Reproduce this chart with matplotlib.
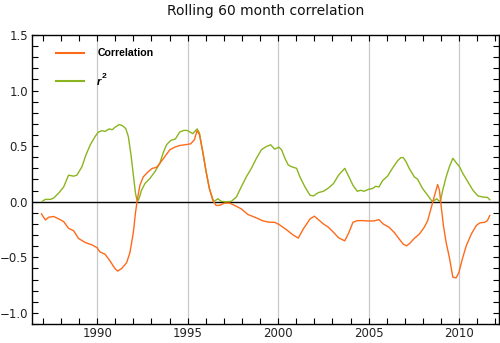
import numpy as np
import matplotlib
matplotlib.use('Agg')
import matplotlib.pyplot as plt

# Correlación (naranja)
corr_years = [1986.92, 1987.14, 1987.33, 1987.60, 1987.88, 1988.15, 1988.42, 1988.70, 1988.97,
              1989.34, 1989.71, 1989.98, 1990.16, 1990.44, 1990.71, 1990.99, 1991.14, 1991.36,
              1991.63, 1991.81, 1992.00, 1992.12, 1992.23, 1992.36, 1992.55, 1992.82, 1993.04,
              1993.28, 1993.46, 1993.74, 1994.01, 1994.29, 1994.56, 1994.84, 1995.17, 1995.37,
              1995.52, 1995.65, 1995.83, 1996.02, 1996.20, 1996.39, 1996.57, 1996.76, 1997.04,
              1997.31, 1997.59, 1997.96, 1998.33, 1998.70, 1999.17, 1999.54, 1999.81, 2000.09,
              2000.46, 2000.83, 2001.11, 2001.39, 2001.76, 2002.00, 2002.22, 2002.50, 2002.78,
              2003.06, 2003.34, 2003.68, 2003.91, 2004.13, 2004.37, 2004.65, 2005.00, 2005.30,
              2005.57, 2005.80, 2006.13, 2006.41, 2006.69, 2006.91, 2007.09, 2007.28, 2007.52,
              2007.80, 2008.07, 2008.26, 2008.44, 2008.59, 2008.72, 2008.81, 2008.91, 2009.00,
              2009.13, 2009.28, 2009.46, 2009.65, 2009.83, 2009.98, 2010.17, 2010.39, 2010.67,
              2010.94, 2011.13, 2011.41, 2011.56, 2011.69]
corr_vals = [-0.109, -0.164, -0.139, -0.133, -0.155, -0.179, -0.239, -0.261, -0.330,
             -0.367, -0.388, -0.412, -0.452, -0.473, -0.533, -0.603, -0.624, -0.600,
             -0.548, -0.458, -0.276, -0.094, 0.027, 0.148, 0.224, 0.270, 0.300,
             0.309, 0.345, 0.406, 0.467, 0.491, 0.506, 0.512, 0.521, 0.558,
             0.639, 0.603, 0.452, 0.270, 0.118, 0.012, -0.033, -0.033, -0.012,
             -0.012, -0.033, -0.064, -0.115, -0.139, -0.173, -0.185, -0.185, -0.209,
             -0.252, -0.300, -0.327, -0.245, -0.155, -0.130, -0.161, -0.200, -0.230,
             -0.276, -0.325, -0.352, -0.276, -0.185, -0.170, -0.170, -0.173, -0.173,
             -0.161, -0.200, -0.230, -0.276, -0.336, -0.382, -0.397, -0.373, -0.330,
             -0.291, -0.230, -0.170, -0.064, 0.027, 0.103, 0.155, 0.103, -0.033,
             -0.215, -0.367, -0.503, -0.679, -0.685, -0.639, -0.518, -0.397, -0.291,
             -0.215, -0.191, -0.185, -0.170, -0.124]

# r^2 (verde)
r2_years = [1986.96, 1987.14, 1987.42, 1987.60, 1987.88, 1988.15, 1988.42, 1988.70, 1988.88,
            1989.16, 1989.38, 1989.62, 1989.89, 1990.07, 1990.26, 1990.44, 1990.66, 1990.84,
            1990.99, 1991.21, 1991.39, 1991.58, 1991.72, 1991.87, 1992.00, 1992.12, 1992.22,
            1992.31, 1992.45, 1992.64, 1992.91, 1993.19, 1993.46, 1993.64, 1993.83, 1994.07,
            1994.32, 1994.56, 1994.80, 1995.00, 1995.28, 1995.52, 1995.65, 1995.83, 1996.02,
            1996.20, 1996.44, 1996.67, 1996.85, 1997.13, 1997.41, 1997.69, 1997.96, 1998.24,
            1998.52, 1998.80, 1999.07, 1999.35, 1999.59, 1999.81, 2000.04, 2000.19, 2000.37,
            2000.56, 2000.74, 2001.02, 2001.20, 2001.48, 2001.76, 2001.94, 2002.22, 2002.50,
            2002.78, 2003.06, 2003.34, 2003.68, 2003.91, 2004.13, 2004.37, 2004.56, 2004.74,
            2005.00, 2005.20, 2005.39, 2005.57, 2005.76, 2006.04, 2006.31, 2006.59, 2006.78,
            2006.91, 2007.06, 2007.24, 2007.52, 2007.70, 2007.98, 2008.26, 2008.50, 2008.63,
            2008.76, 2008.85, 2008.96, 2009.09, 2009.28, 2009.46, 2009.65, 2009.83, 2010.02,
            2010.20, 2010.48, 2010.76, 2011.04, 2011.31, 2011.56, 2011.69]
r2_vals = [0.003, 0.021, 0.021, 0.033, 0.079, 0.133, 0.239, 0.230, 0.239,
           0.315, 0.421, 0.512, 0.588, 0.627, 0.639, 0.633, 0.655, 0.648,
           0.670, 0.694, 0.685, 0.658, 0.588, 0.421, 0.239, 0.073, 0.003,
           0.027, 0.103, 0.164, 0.209, 0.270, 0.345, 0.436, 0.512, 0.552,
           0.564, 0.627, 0.642, 0.640, 0.612, 0.655, 0.618, 0.452, 0.270,
           0.118, 0.000, 0.027, 0.003, 0.000, 0.003, 0.042, 0.133, 0.224,
           0.300, 0.391, 0.467, 0.497, 0.512, 0.473, 0.491, 0.467, 0.391,
           0.330, 0.315, 0.300, 0.224, 0.133, 0.058, 0.052, 0.082, 0.094,
           0.124, 0.164, 0.240, 0.300, 0.224, 0.148, 0.094, 0.103, 0.094,
           0.112, 0.118, 0.139, 0.133, 0.188, 0.230, 0.300, 0.367, 0.397,
           0.397, 0.361, 0.300, 0.224, 0.203, 0.118, 0.058, 0.003, 0.012,
           0.027, 0.012, 0.003, 0.103, 0.224, 0.315, 0.391, 0.352, 0.315,
           0.255, 0.179, 0.103, 0.052, 0.042, 0.039, 0.018]

major_years = [1990, 1995, 2000, 2005, 2010]
y_ticks = [-1.0, -0.5, 0.0, 0.5, 1.0, 1.5]

color_corr = '#ff6a1a'
color_r2 = '#8ab51e'

fig = plt.figure(figsize=(5, 3.43), dpi=100)
ax = fig.add_axes([0.064, 0.0554, 0.934, 0.8426])

for yr in major_years:
    ax.axvline(yr, color='#c8c8c8', lw=0.9, zorder=0)
ax.axhline(0, color='black', lw=1.0, zorder=1)

ax.plot(corr_years, corr_vals, color=color_corr, lw=1.0, zorder=3)
ax.plot(r2_years, r2_vals, color=color_r2, lw=1.0, zorder=2)

ax.set_xlim(1986.4, 2012.2)
ax.set_ylim(-1.1, 1.5)
ax.set_xticks(major_years)
ax.set_xticks(np.arange(1987, 2013), minor=True)
ax.set_yticks(y_ticks)
ax.set_yticks(np.arange(-11, 15) / 10, minor=True)
ax.set_yticklabels(['\u22121.0', '\u22120.5', '0.0', '0.5', '1.0', '1.5'])

ax.tick_params(which='both', direction='in', top=True, right=True, labelsize=8.5,
               color='black', labelcolor='#222222', length=4, width=0.8)
ax.tick_params(axis='x', pad=2.5)
ax.tick_params(axis='y', pad=3)
for s in ax.spines.values():
    s.set_linewidth(1.0)

# Leyenda manual
ax.plot([1987.7, 1989.3], [1.34, 1.34], color=color_corr, lw=1.5)
ax.plot([1987.7, 1989.3], [1.09, 1.09], color=color_r2, lw=1.5)
ax.text(1990.0, 1.34, 'Correlation', fontsize=7.6, fontweight='bold',
        family='Liberation Sans', va='center')
ax.text(1990.0, 1.075, 'r', fontsize=8, fontweight='bold', fontstyle='italic',
        family='Liberation Sans', va='center')
ax.text(1990.27, 1.125, '2', fontsize=6, fontweight='bold',
        family='Liberation Sans', va='center')

# Título centrado sobre el área de las curvas
fig.text(0.531, 0.988, 'Rolling 60 month correlation', fontsize=10,
         ha='center', va='top', color='#111111')

plt.savefig('out.png', dpi=100)
plt.close()
